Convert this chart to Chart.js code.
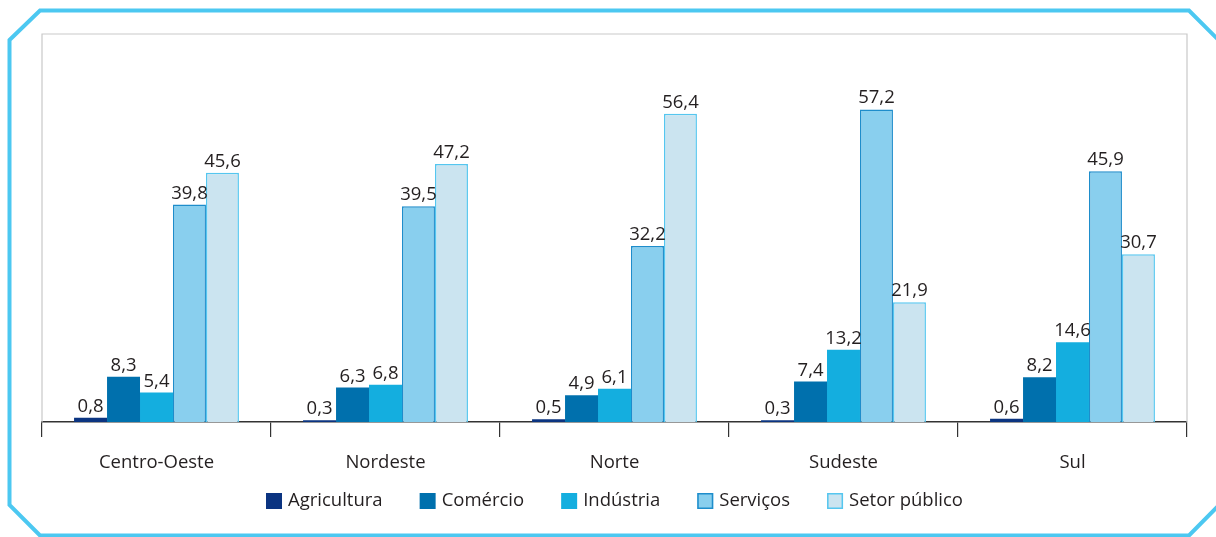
<!DOCTYPE html>
<html lang="pt">
<head>
<meta charset="utf-8">
<title>Setores por região</title>
<script src="https://cdn.jsdelivr.net/npm/chart.js@4"></script>
<style>
  html, body { margin: 0; padding: 0; background: #fff; }
  #wrap { width: 1216px; height: 537px; position: relative; }
</style>
</head>
<body>
<div id="wrap"><canvas id="grafico" width="1216" height="537"></canvas></div>
<script>
// dados
const regioes = ['Centro-Oeste', 'Nordeste', 'Norte', 'Sudeste', 'Sul'];
const agricultura = [0.8, 0.3, 0.5, 0.3, 0.6];
const comercio = [8.3, 6.3, 4.9, 7.4, 8.2];
const industria = [5.4, 6.8, 6.1, 13.2, 14.6];
const servicos = [39.8, 39.5, 32.2, 57.2, 45.9];
const setorPublico = [45.6, 47.2, 56.4, 21.9, 30.7];

const FONTE = "'Open Sans', 'Noto Sans', sans-serif";
const TAM = 18.5;
const COR_TEXTO = '#231f20';

const fmt = v => v.toFixed(1).replace('.', ',');

// moldura azul com cantos chanfrados
const molduraPlugin = {
    id: 'moldura',
    beforeDraw(chart) {
        const ctx = chart.ctx;
        ctx.save();
        ctx.strokeStyle = '#4cc8f1';
        ctx.lineWidth = 4;
        ctx.lineJoin = 'miter';
        ctx.beginPath();
        ctx.moveTo(9.5, 40);
        ctx.lineTo(40, 10.5);
        ctx.lineTo(1189, 10.5);
        ctx.lineTo(1220, 41.5);
        ctx.lineTo(1220, 504);
        ctx.lineTo(1189, 535.5);
        ctx.lineTo(40, 535.5);
        ctx.lineTo(9.5, 505);
        ctx.closePath();
        ctx.stroke();
        ctx.restore();
    },
    beforeDatasetsDraw(chart) {
        // borda cinza da área do gráfico
        const { ctx } = chart;
        const sx = chart.scales.x;
        const top = chart.chartArea.top, bottom = chart.chartArea.bottom;
        ctx.save();
        ctx.strokeStyle = '#c9c9c9';
        ctx.lineWidth = 1.2;
        ctx.beginPath();
        ctx.moveTo(sx.left, bottom);
        ctx.lineTo(sx.left, top);
        ctx.lineTo(sx.right, top);
        ctx.lineTo(sx.right, bottom);
        ctx.stroke();
        ctx.restore();
    }
};

// rótulos de valor acima das barras
const rotulosPlugin = {
    id: 'rotulos',
    afterDatasetsDraw(chart) {
        const ctx = chart.ctx;
        ctx.save();
        ctx.font = TAM + 'px ' + FONTE;
        ctx.fillStyle = COR_TEXTO;
        ctx.textAlign = 'center';
        ctx.textBaseline = 'bottom';
        chart.data.datasets.forEach((ds, i) => {
            chart.getDatasetMeta(i).data.forEach((bar, j) => {
                ctx.fillText(fmt(ds.data[j]), bar.x, bar.y - 2);
            });
        });
        ctx.restore();
    }
};

// legenda desenhada à mão para acertar espaçamentos
const legendaPlugin = {
    id: 'legenda',
    afterDraw(chart) {
        const ctx = chart.ctx;
        const sx = chart.scales.x;
        const box = 16, gapTexto = 6, gapItem = 37, yMeio = 501;
        ctx.save();
        ctx.font = TAM + 'px ' + FONTE;
        const itens = chart.data.datasets.map(ds => ({ ds, w: ctx.measureText(ds.label).width }));
        const total = itens.reduce((s, it) => s + box + gapTexto + it.w, 0) + gapItem * (itens.length - 1);
        let x = (sx.left + sx.right) / 2 - total / 2;
        itens.forEach(({ ds, w }) => {
            ctx.fillStyle = ds.backgroundColor;
            ctx.fillRect(x, yMeio - box / 2, box, box);
            if (ds.borderWidth) {
                ctx.strokeStyle = ds.borderColor;
                ctx.lineWidth = 1.5;
                ctx.strokeRect(x + 0.75, yMeio - box / 2 + 0.75, box - 1.5, box - 1.5);
            }
            ctx.fillStyle = COR_TEXTO;
            ctx.textBaseline = 'middle';
            ctx.textAlign = 'left';
            ctx.fillText(ds.label, x + box + gapTexto, yMeio);
            x += box + gapTexto + w + gapItem;
        });
        ctx.restore();
    }
};

const ctx = document.getElementById('grafico').getContext('2d');
new Chart(ctx, {
    type: 'bar',
    data: {
        labels: regioes,
        datasets: [
            { label: 'Agricultura', data: agricultura, backgroundColor: '#0b3481', borderWidth: 0 },
            { label: 'Comércio', data: comercio, backgroundColor: '#0070ad', borderWidth: 0 },
            { label: 'Indústria', data: industria, backgroundColor: '#14aedf', borderWidth: 0 },
            { label: 'Serviços', data: servicos, backgroundColor: '#89cfee', borderColor: '#1e8dcb', borderWidth: 1.5 },
            { label: 'Setor público', data: setorPublico, backgroundColor: '#cbe4f0', borderColor: '#55c6ef', borderWidth: 1.5 }
        ]
    },
    options: {
        responsive: false,
        animation: false,
        layout: { padding: { top: 34, left: 42, right: 29, bottom: 0 } },
        datasets: { bar: { categoryPercentage: 0.72, barPercentage: 1 } },
        plugins: {
            legend: { display: false },
            tooltip: { enabled: false }
        },
        scales: {
            x: {
                afterFit: s => { s.height = 115; },
                grid: { display: true, drawOnChartArea: false, offset: true, tickLength: 15, color: '#333', lineWidth: 1.2 },
                border: { display: true, color: '#333', width: 1.5 },
                ticks: { font: { family: FONTE, size: TAM }, color: COR_TEXTO, padding: 15 }
            },
            y: {
                display: false,
                min: 0,
                max: 71
            }
        }
    },
    plugins: [molduraPlugin, rotulosPlugin, legendaPlugin]
});
</script>
</body>
</html>
